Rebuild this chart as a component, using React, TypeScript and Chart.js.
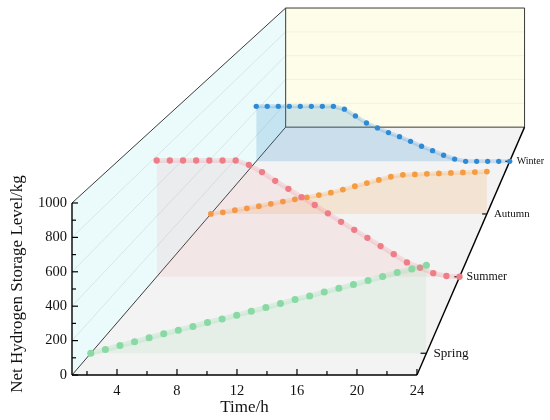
import React, { useEffect, useRef } from "react";
import { Chart, registerables } from "chart.js";

Chart.register(...registerables);

// hourly net hydrogen storage level (kg)
const hours = [1, 2, 3, 4, 5, 6, 7, 8, 9, 10, 11, 12, 13, 14, 15, 16, 17, 18, 19, 20, 21, 22, 23, 24];
const spring = [0, 22, 46, 68, 92, 116, 138, 160, 184, 205, 227, 251, 273, 297, 321, 342, 366, 388, 410, 434, 458, 482, 503, 526];
const summer = [770, 770, 770, 770, 770, 770, 770, 741, 693, 635, 582, 527, 475, 420, 364, 311, 258, 203, 150, 95, 60, 24, 5, 0];
const autumn = [0, 12, 27, 41, 56, 73, 90, 106, 121, 137, 154, 177, 201, 224, 247, 270, 284, 287, 291, 294, 298, 301, 304, 308];
const winter = [435, 435, 435, 435, 435, 435, 435, 435, 412, 359, 303, 264, 227, 195, 158, 119, 84, 48, 18, 0, 0, 0, 0, 0];

const seasons = ["Spring", "Summer", "Autumn", "Winter"];
const seasonValues = [spring, summer, autumn, winter];
const seasonDepth = [0.25, 1.25, 2.25, 3.25];

const timeTicks = [4, 8, 12, 16, 20, 24];
const levelTicks = [0, 200, 400, 600, 800, 1000];

const dotColors = ["#88d9a3", "#ef7d88", "#f59b40", "#2f8ad4"];
const lineColors = ["rgba(136,217,163,0.22)", "rgba(239,125,136,0.2)", "rgba(245,155,64,0.2)", "rgba(47,138,212,0.22)"];
const fillColors = ["rgba(136,217,163,0.13)", "rgba(239,125,136,0.11)", "rgba(245,155,64,0.18)", "rgba(47,138,212,0.2)"];

// perspective box: front face is the real axes, depth runs 0..4 to the back wall
const T_MIN = 1;
const T_MAX = 24;
const V_MAX = 1000;
const DEPTH_MAX = 4;
const K = 0.111;
const VP = { x: 47.33, y: 4686 };
const X_VIEW_MAX = 32.87;
const Y_VIEW_MAX = 2180;

const FONT = "'Liberation Serif', 'Times New Roman', serif";

function depthScale(z: number) {
  return 1 / (1 + K * z);
}

function project(t: number, v: number, z: number) {
  const s = depthScale(z);
  return { x: VP.x + (t - VP.x) * s, y: VP.y + (v - VP.y) * s };
}

const boxPlugin = {
  id: "box3d",
  beforeDatasetsDraw(chart: any) {
    const { ctx } = chart;
    const xs = chart.scales.x;
    const ys = chart.scales.y;
    const px = (t: number, v: number, z: number) => {
      const p = project(t, v, z);
      return [xs.getPixelForValue(p.x), ys.getPixelForValue(p.y)];
    };
    const poly = (pts: number[][], fill: string) => {
      ctx.beginPath();
      pts.forEach((p, i) => (i ? ctx.lineTo(p[0], p[1]) : ctx.moveTo(p[0], p[1])));
      ctx.closePath();
      ctx.fillStyle = fill;
      ctx.fill();
    };
    const line = (a: number[], b: number[], color: string, w: number) => {
      ctx.beginPath();
      ctx.moveTo(a[0], a[1]);
      ctx.lineTo(b[0], b[1]);
      ctx.strokeStyle = color;
      ctx.lineWidth = w;
      ctx.stroke();
    };

    const fBL = px(T_MIN, 0, 0);
    const fTL = px(T_MIN, V_MAX, 0);
    const fBR = px(T_MAX, 0, 0);
    const bBL = px(T_MIN, 0, DEPTH_MAX);
    const bTL = px(T_MIN, V_MAX, DEPTH_MAX);
    const bBR = px(T_MAX, 0, DEPTH_MAX);
    const bTR = px(T_MAX, V_MAX, DEPTH_MAX);

    ctx.save();
    poly([fBL, fTL, bTL, bBL], "#ebfafb");
    poly([bBL, bTL, bTR, bBR], "#fefde9");
    poly([fBL, fBR, bBR, bBL], "#f3f3f3");

    levelTicks.slice(1, -1).forEach((v) => {
      line(px(T_MIN, v, 0), px(T_MIN, v, DEPTH_MAX), "rgba(0,0,0,0.12)", 0.7);
      line(px(T_MIN, v, DEPTH_MAX), px(T_MAX, v, DEPTH_MAX), "rgba(0,0,0,0.07)", 0.7);
    });

    const edge = "#3a3a3a";
    line(fTL, bTL, edge, 1);
    line(bTL, bTR, edge, 1);
    line(bTR, bBR, edge, 1);
    line(bBL, bTL, edge, 1);
    line(bBL, bBR, edge, 1);
    line(fBL, bBL, edge, 1);

    line(fBL, fTL, "#000", 1.4);
    line(fBL, fBR, "#000", 1.4);
    line(fBR, bBR, "#000", 1.4);

    for (let v = 0; v <= V_MAX; v += 100) {
      const p = px(T_MIN, v, 0);
      const len = v % 200 === 0 ? 6 : 4;
      line(p, [p[0] + len, p[1]], "#000", 1.2);
    }
    for (let t = 2; t <= T_MAX; t += 2) {
      const p = px(t, 0, 0);
      const len = t % 4 === 0 ? 6 : 4;
      line(p, [p[0], p[1] - len], "#000", 1.2);
    }

    seasons.forEach((name, i) => {
      const s = depthScale(seasonDepth[i]);
      const p = px(T_MAX, 0, seasonDepth[i]);
      line([p[0] - 6 * s, p[1]], p, "#000", 1.2);
      ctx.fillStyle = "#111";
      ctx.font = `${(13.6 * s).toFixed(1)}px ${FONT}`;
      ctx.textAlign = "left";
      ctx.textBaseline = "middle";
      ctx.fillText(name, p[0] + 7, p[1]);
    });
    ctx.restore();
  },
  afterDraw(chart: any) {
    const { ctx } = chart;
    const xs = chart.scales.x;
    const ys = chart.scales.y;
    ctx.save();
    ctx.fillStyle = "#111";
    ctx.font = `17px ${FONT}`;
    ctx.textAlign = "center";
    ctx.textBaseline = "middle";
    const xMid = (xs.getPixelForValue(T_MIN) + xs.getPixelForValue(T_MAX)) / 2;
    ctx.fillText("Time/h", xMid, ys.getPixelForValue(0) + 33);
    ctx.translate(18, (ys.getPixelForValue(0) + ys.getPixelForValue(V_MAX)) / 2 - 5);
    ctx.rotate(-Math.PI / 2);
    ctx.fillText("Net Hydrogen Storage Level/kg", 0, 0);
    ctx.restore();
  },
};

export default function App() {
  const chartRef = useRef<HTMLCanvasElement | null>(null);

  useEffect(() => {
    if (!chartRef.current) {
      return;
    }
    document.body.style.margin = "0";

    const datasets = seasons.map((name, i) => {
      const z = seasonDepth[i];
      const s = depthScale(z);
      return {
        label: name,
        data: hours.map((t, j) => project(t, seasonValues[i][j], z)),
        borderColor: lineColors[i],
        borderWidth: 5.5 * s,
        backgroundColor: fillColors[i],
        pointBackgroundColor: dotColors[i],
        pointBorderWidth: 0,
        pointRadius: 3.6 * s,
        tension: 0,
        fill: { value: project(0, 0, z).y },
        order: i,
      };
    });

    const tickFont = { family: FONT, size: 14.5 };

    const chartInstance = new Chart(chartRef.current, {
      type: "line",
      data: { datasets },
      options: {
        animation: false,
        responsive: true,
        maintainAspectRatio: false,
        layout: { padding: 0, autoPadding: false },
        plugins: {
          legend: { display: false },
          tooltip: { enabled: false },
        },
        scales: {
          x: {
            type: "linear",
            min: T_MIN,
            max: X_VIEW_MAX,
            grid: { display: false, drawTicks: false },
            border: { display: false },
            ticks: {
              font: tickFont,
              color: "#111",
              padding: 7,
              autoSkip: false,
              maxRotation: 0,
              callback: (v: any) => String(v),
            },
            afterBuildTicks: (axis: any) => {
              axis.ticks = timeTicks.map((value) => ({ value }));
            },
            afterFit: (axis: any) => {
              axis.height = 45;
              axis.paddingLeft = 0;
              axis.paddingRight = 0;
            },
          },
          y: {
            type: "linear",
            min: 0,
            max: Y_VIEW_MAX,
            grid: { display: false, drawTicks: false },
            border: { display: false },
            ticks: {
              font: tickFont,
              color: "#111",
              padding: 5,
              autoSkip: false,
              callback: (v: any) => String(v),
            },
            afterBuildTicks: (axis: any) => {
              axis.ticks = levelTicks.map((value) => ({ value }));
            },
            afterFit: (axis: any) => {
              axis.width = 72;
              axis.paddingTop = 0;
              axis.paddingBottom = 0;
            },
          },
        },
      },
      plugins: [boxPlugin],
    } as any);

    return () => {
      chartInstance.destroy();
    };
  }, [chartRef]);

  return (
    <div style={{ position: "relative", width: 550, height: 420, background: "#fff" }}>
      <canvas ref={chartRef}></canvas>
    </div>
  );
}
